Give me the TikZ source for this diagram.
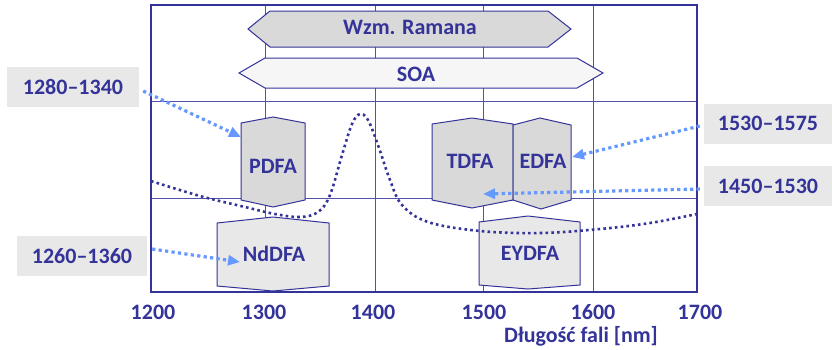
\documentclass[tikz,border=0pt]{standalone}
\usepackage{fontspec}
\setmainfont{Carlito}
\usepackage{tikz}
\usetikzlibrary{arrows.meta,positioning}
\definecolor{navy}{RGB}{51,51,153}
\definecolor{dotblue}{RGB}{102,153,255}
\definecolor{boxgray}{RGB}{232,232,232}
\definecolor{darkgray}{RGB}{217,217,217}
\definecolor{palegray}{RGB}{246,246,246}

\begin{document}
\begin{tikzpicture}[x=1pt,y=-1pt,>={Triangle[length=12pt,width=10pt]},
  font=\fontsize{22}{26}\selectfont\bfseries,text=navy]
  \useasboundingbox (0,0) rectangle (832,349);
  \tikzset{gridline/.style={navy!85,line width=1pt}}
  \tikzset{band/.style={draw=navy,line width=1pt,line join=miter}}
  \tikzset{rangebox/.style={fill=boxgray,minimum height=40pt,inner sep=0pt}}
  \tikzset{rangearrow/.style={->,dotblue,line width=3.2pt,dash pattern=on 3.2pt off 3.3pt}}

  % grid
  \draw[gridline] (265,5) -- (265,292) (375,5) -- (375,292)
              (483,5) -- (483,292) (593,5) -- (593,292);
  \draw[gridline] (151,101) -- (697,101) (151,198) -- (697,198);
  \draw[navy,line width=2.2pt] (151,5) rectangle (697,292);

  % amplifier bands
  \draw[band,fill=darkgray] (248,29) -- (270,11) -- (548,11) -- (571,29) -- (548,47) -- (270,47) -- cycle;
  \node[anchor=base] (raman) at (410,34.5) {Wzm. Ramana};
  \draw[band,fill=palegray] (239,73) -- (265,58) -- (577,58) -- (603,73) -- (577,88) -- (265,88) -- cycle;
  \node[anchor=base] (soa) at (416,81) {SOA};
  \draw[band,fill=darkgray] (241,123) -- (273,117) -- (305,123) -- (305,200) -- (273,207) -- (241,200) -- cycle;
  \node[anchor=base] (pdfa) at (273,173) {PDFA};
  \draw[band,fill=darkgray] (432,124) -- (472,118) -- (513,124) -- (513,200) -- (472,208) -- (432,200) -- cycle;
  \node[anchor=base] (tdfa) at (470,168) {TDFA};
  \draw[band,fill=darkgray] (513,125) -- (540,118) -- (571,125) -- (571,200) -- (541,209) -- (513,200) -- cycle;
  \node[anchor=base] (edfa) at (543,168) {EDFA};
  \draw[band,fill=boxgray] (217,223) -- (273,217) -- (329,223) -- (329,286) -- (273,291) -- (217,286) -- cycle;
  \node[anchor=base] (nddfa) at (274,261) {NdDFA};
  \draw[band,fill=boxgray] (479,222) -- (528,216) -- (580,222) -- (580,285) -- (528,289) -- (479,285) -- cycle;
  \node[anchor=base] (eydfa) at (530,260) {EYDFA};

  % fibre loss curve
  \draw[navy,line width=2.6pt,dash pattern=on 2.6pt off 3.2pt]
    plot[smooth,tension=0.6] coordinates {(151,181) (200,196) (245,207) (275,214) (300,217)
      (318,212) (330,195) (342,155) (352,124) (360,114) (368,120) (378,145) (390,180)
      (402,205) (428,222) (480,231) (540,233) (600,229) (650,223) (697,214)};

  % axis
  \foreach \lam/\xp in {1200/153,1300/264,1400/373,1500/484,1600/593,1700/700}
    \node[anchor=base] (t\lam) at (\xp,319) {\lam};
  \node[anchor=base] (xlabel) at (581,342.5) {Długość fali [nm]};

  % ranges
  \node[rangebox,minimum width=132pt] (r1280) at (73,87) {1280–1340};
  \node[rangebox,minimum width=128pt] (r1530) at (768,123.5) {1530–1575};
  \node[rangebox,minimum width=128pt] (r1450) at (768,186) {1450–1530};
  \node[rangebox,minimum width=130pt] (r1260) at (82,256) {1260–1360};
  \coordinate (pdfaIn) at (241,137);
  \coordinate (edfaIn) at (572,157);
  \coordinate (tdfaIn) at (483,194);
  \coordinate (nddfaIn) at (240,262);
  \draw[rangearrow] ([shift={(4,4)}]r1280.east) -- (pdfaIn);
  \draw[rangearrow] ([shift={(-4,2.5)}]r1530.west) -- (edfaIn);
  \draw[rangearrow] ([shift={(-4,3)}]r1450.west) -- (tdfaIn);
  \draw[rangearrow] ([shift={(5,-7)}]r1260.east) -- (nddfaIn);
\end{tikzpicture}
\end{document}
